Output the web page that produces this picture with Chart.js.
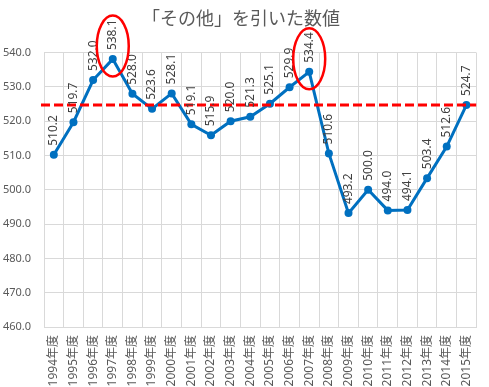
<!DOCTYPE html>
<html>
<head>
<meta charset="utf-8">
<script src="https://cdn.jsdelivr.net/npm/chart.js@4/dist/chart.umd.min.js"></script>
<style>
  html, body { margin: 0; padding: 0; background: #fff; }
  #wrap { width: 489px; height: 387px; }
</style>
</head>
<body>
<div id="wrap"><canvas id="plot" width="489" height="387"></canvas></div>
<script>
const years = ['1994年度', '1995年度', '1996年度', '1997年度', '1998年度', '1999年度', '2000年度', '2001年度',
    '2002年度', '2003年度', '2004年度', '2005年度', '2006年度', '2007年度', '2008年度', '2009年度',
    '2010年度', '2011年度', '2012年度', '2013年度', '2014年度', '2015年度']
const values = [510.2, 519.7, 532.0, 538.1, 528.0, 523.6, 528.1, 519.1, 515.9, 520.0, 521.3,
    525.1, 529.9, 534.4, 510.6, 493.2, 500.0, 494.0, 494.1, 503.4, 512.6, 524.7]
const refLine = 524.7
const circled = [3, 13]   // 1997年度, 2007年度

const FONT = "'Noto Sans', 'Noto Sans CJK JP', sans-serif"
const TITLE_FONT = "'Noto Sans CJK JP', sans-serif"

// red dashed reference line, data labels and hand drawn circles
const extras = {
    id: 'extras',
    afterDatasetsDraw(chart) {
        const ctx = chart.ctx
        const area = chart.chartArea
        const y = chart.scales.y.getPixelForValue(refLine)
        ctx.save()
        ctx.strokeStyle = '#ff0000'
        ctx.lineWidth = 3
        ctx.setLineDash([9, 4])
        ctx.beginPath()
        ctx.moveTo(area.left - 3, y)
        ctx.lineTo(area.right, y)
        ctx.stroke()
        ctx.restore()

        const meta = chart.getDatasetMeta(0)
        ctx.save()
        ctx.font = '12px ' + FONT
        ctx.fillStyle = '#404040'
        ctx.textAlign = 'left'
        ctx.textBaseline = 'middle'
        meta.data.forEach((pt, i) => {
            ctx.save()
            ctx.translate(pt.x, pt.y - 9)
            ctx.rotate(-Math.PI / 2)
            ctx.fillText(values[i].toFixed(1), 0, 0)
            ctx.restore()
        })
        ctx.restore()

        ctx.save()
        ctx.strokeStyle = '#ff0000'
        ctx.lineWidth = 2.5
        circled.forEach(i => {
            const pt = meta.data[i]
            ctx.beginPath()
            ctx.ellipse(pt.x, pt.y - 13, 16, 30.5, 0, 0, Math.PI * 2)
            ctx.stroke()
        })
        ctx.restore()
    }
}

const ctx = document.getElementById('plot').getContext('2d')
new Chart(ctx, {
    type: 'line',
    data: {
        labels: years,
        datasets: [{
            data: values,
            borderColor: '#0070c0',
            backgroundColor: '#0070c0',
            borderWidth: 3,
            pointRadius: 4,
            pointBorderWidth: 0,
            tension: 0,
            fill: false,
        }],
    },
    options: {
        responsive: false,
        animation: false,
        layout: { padding: { left: 3, right: 10, top: 0, bottom: 0 } },
        plugins: {
            legend: { display: false },
            tooltip: { enabled: false },
            title: {
                display: true,
                text: '「その他」を引いた数値',
                color: '#595959',
                font: { family: TITLE_FONT, size: 18, weight: 'normal' },
                padding: { top: 7, bottom: 24 },
            },
        },
        scales: {
            x: {
                offset: true,
                grid: { offset: true, color: '#d9d9d9', drawTicks: false },
                border: { color: '#d9d9d9' },
                afterFit: scale => { scale.height = 60 },
                ticks: {
                    color: '#595959',
                    font: { family: FONT, size: 12 },
                    maxRotation: 90,
                    minRotation: 90,
                    autoSkip: false,
                    padding: 8,
                },
            },
            y: {
                min: 460,
                max: 540,
                grid: { color: '#d9d9d9', drawTicks: false },
                border: { display: false },
                afterFit: scale => { scale.width = 41 },
                ticks: {
                    stepSize: 10,
                    color: '#595959',
                    font: { family: FONT, size: 11 },
                    padding: 13,
                    callback: v => v.toFixed(1),
                },
            },
        },
    },
    plugins: [extras],
})
</script>
</body>
</html>
